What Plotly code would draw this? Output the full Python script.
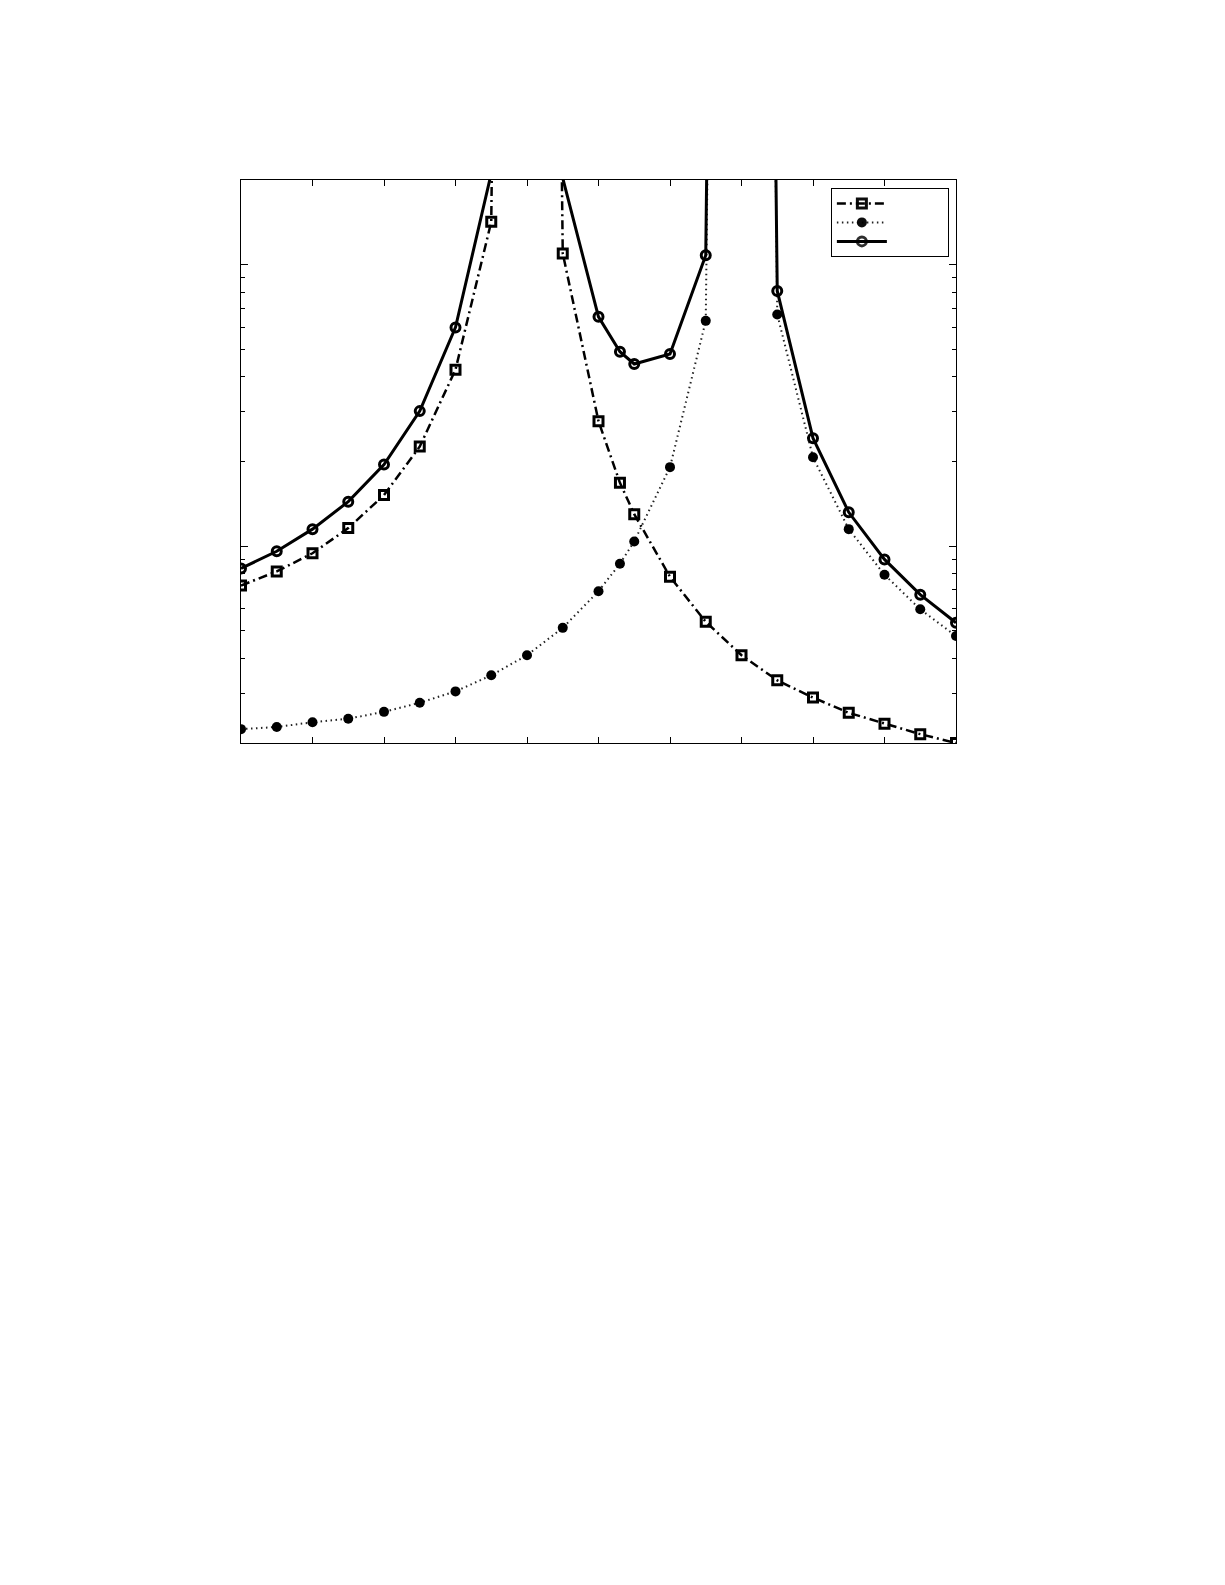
import plotly.graph_objects as go
import math

x_vals = [0, 0.5, 1, 1.5, 2, 2.5, 3, 3.5, 4, 4.5, 5, 5.3, 5.5, 6, 6.5, 7, 7.5, 8, 8.5, 9, 9.5, 10]

series_a = [0.725, 0.814, 0.944, 1.16, 1.52, 2.26, 4.24, 14.2, 1e12, 10.97, 2.78, 1.68, 1.30,
            0.779, 0.539, 0.410, 0.334, 0.290, 0.256, 0.234, 0.215, 0.200]
series_b = [0.224, 0.228, 0.237, 0.244, 0.258, 0.278, 0.305, 0.348, 0.410, 0.513, 0.692, 0.867, 1.04,
            1.91, 6.32, 1e12, 6.66, 2.07, 1.15, 0.792, 0.597, 0.480]
series_c = [0.834, 0.96, 1.15, 1.44, 1.95, 3.02, 5.99, 21.1, 1e12, 20.3, 6.53, 4.91, 4.44,
            4.82, 10.8, 1e12, 8.07, 2.42, 1.32, 0.898, 0.673, 0.535]

y_min, y_max = 0.2, 20.0
legend_names = ["\u00a0" * 15, "\u00a0" * 15 + "\u200b", "\u00a0" * 15 + "\u200b\u200b"]


def marker_visibility(vals):
    # like the original, a marker whose point lies outside the axes is not drawn
    return [1 if y_min <= v <= y_max else 0 for v in vals]


fig = go.Figure()
fig.add_trace(go.Scatter(
    x=x_vals, y=series_a, mode="lines+markers", name=legend_names[0],
    line=dict(color="black", width=2.5, dash="9px,4px,2px,4px"),
    marker=dict(symbol="square-open", size=9, color="black", line=dict(width=3, color="black"),
                opacity=marker_visibility(series_a)),
))
fig.add_trace(go.Scatter(
    x=x_vals, y=series_b, mode="lines+markers", name=legend_names[1],
    line=dict(color="#222222", width=2, dash="1.5px,3.5px"),
    marker=dict(symbol="circle", size=10, color="black", opacity=marker_visibility(series_b)),
))
fig.add_trace(go.Scatter(
    x=x_vals, y=series_c, mode="lines+markers", name=legend_names[2],
    line=dict(color="black", width=3),
    marker=dict(symbol="circle-open", size=9, color="black", line=dict(width=3, color="black"),
                opacity=marker_visibility(series_c)),
))

fig.update_layout(
    width=1225, height=1585,
    margin=dict(l=233, r=277, t=172, b=850, pad=0),
    paper_bgcolor="white", plot_bgcolor="white",
    font=dict(family="Liberation Sans", size=12, color="black"),
    showlegend=True,
    legend=dict(
        x=0.825, y=0.986, xanchor="left", yanchor="top",
        bgcolor="white", bordercolor="black", borderwidth=1,
        font=dict(size=12), tracegroupgap=0, itemwidth=50,
    ),
)
fig.update_xaxes(
    range=[0, 10], tick0=0, dtick=1, ticks="inside", ticklen=6, tickwidth=1, tickcolor="black",
    showticklabels=False, showgrid=False, zeroline=False,
    showline=True, linecolor="black", linewidth=1, mirror="ticks",
)
fig.update_yaxes(
    type="log", range=[math.log10(y_min), math.log10(y_max)], dtick=1,
    ticks="inside", ticklen=7, tickwidth=1, tickcolor="black",
    minor=dict(ticks="inside", ticklen=4, tickcolor="black", dtick="D1", showgrid=False),
    showticklabels=False, showgrid=False, zeroline=False,
    showline=True, linecolor="black", linewidth=1, mirror="ticks",
)

fig.write_html("out.html")
